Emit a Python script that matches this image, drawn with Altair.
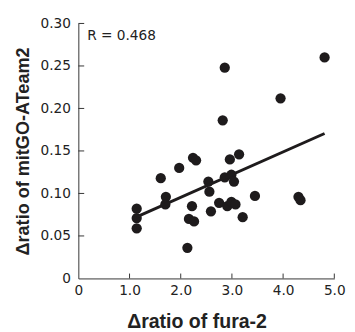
import altair as alt
import pandas as pd

# Data
fura = [1.14, 1.14, 1.14, 1.61, 1.71, 1.70, 1.97, 2.24, 2.30, 2.22, 2.16,
        2.26, 2.13, 2.54, 2.56, 2.59, 2.75, 2.86, 2.96, 2.99, 3.04, 2.91,
        2.99, 3.07, 3.14, 3.21, 3.45, 4.30, 4.34, 2.86, 4.81, 3.95, 2.82]
ateam = [0.082, 0.071, 0.059, 0.118, 0.096, 0.087, 0.130, 0.142, 0.139, 0.085, 0.070,
         0.067, 0.036, 0.114, 0.102, 0.079, 0.089, 0.119, 0.140, 0.122, 0.114, 0.085,
         0.090, 0.087, 0.146, 0.072, 0.097, 0.096, 0.092, 0.248, 0.260, 0.212, 0.186]
x_ticks = [1.0, 2.0, 3.0, 4.0, 5.0]
y_ticks = [0.05, 0.10, 0.15, 0.20, 0.25, 0.30]
r_label = ["R = 0.468"]

W, H = 262, 261
INK = "#1e1b1c"
FONT = "DejaVu Sans"
TFONT = "Liberation Sans"

df = pd.DataFrame({"fura": fura, "ateam": ateam})
xt = pd.DataFrame({"v": x_ticks})
yt = pd.DataFrame({"v": y_ticks})
rl = pd.DataFrame({"t": r_label})

xscale = alt.Scale(domain=[0, 5], nice=False, zero=True)
yscale = alt.Scale(domain=[0, 0.3], nice=False, zero=True)

xaxis = alt.Axis(
    title="Δratio of fura-2", values=[0, 1, 2, 3, 4, 5],
    labelExpr="datum.value == 0 ? '0' : format(datum.value, '.1f')",
    ticks=False, grid=False, domainColor="#333333", domainWidth=1,
    labelFont=FONT, labelFontSize=14, labelColor="#222222", labelPadding=5,
    titleFont=TFONT, titleFontSize=20, titleFontWeight="bold", titleColor="#222222",
    titlePadding=15, titleX=121, labelFlush=False,
)
yaxis = alt.Axis(
    title="Δratio of mitGO-ATeam2", values=[0, 0.05, 0.1, 0.15, 0.2, 0.25, 0.3],
    labelExpr="datum.value == 0 ? '0' : format(datum.value, '.2f')",
    ticks=False, grid=False, domainColor="#333333", domainWidth=1,
    labelFont=FONT, labelFontSize=14, labelColor="#222222", labelPadding=8,
    titleFont=TFONT, titleFontSize=18.5, titleFontWeight="bold", titleColor="#222222",
    titlePadding=8, labelFlush=False,
)

base = alt.Chart(df)

points = base.mark_circle(size=110, opacity=1, color=INK).encode(
    x=alt.X("fura:Q", scale=xscale, axis=xaxis),
    y=alt.Y("ateam:Q", scale=yscale, axis=yaxis),
)

fit = base.transform_regression("fura", "ateam").mark_line(
    color=INK, strokeWidth=3
).encode(
    x=alt.X("fura:Q", scale=xscale),
    y=alt.Y("ateam:Q", scale=yscale),
)

xtick_marks = alt.Chart(xt).mark_rule(color="#333333", strokeWidth=1).encode(
    x=alt.X("v:Q", scale=xscale),
    y=alt.value(H),
    y2=alt.value(H - 5),
)
ytick_marks = alt.Chart(yt).mark_rule(color="#333333", strokeWidth=1).encode(
    y=alt.Y("v:Q", scale=yscale),
    x=alt.value(0),
    x2=alt.value(6),
)

rtext = alt.Chart(rl).mark_text(
    align="left", baseline="alphabetic", font=FONT, fontSize=14, color="#222222"
).encode(
    text="t:N",
    x=alt.value(9),
    y=alt.value(17),
)

chart = alt.layer(points, fit, xtick_marks, ytick_marks, rtext).properties(
    width=W, height=H,
    autosize=alt.AutoSizeParams(type="none"),
    padding={"left": 72, "top": 12, "right": 13, "bottom": 51},
).configure_view(stroke=None)

chart.save("out.html", embed_options={"renderer": "svg", "actions": False})
